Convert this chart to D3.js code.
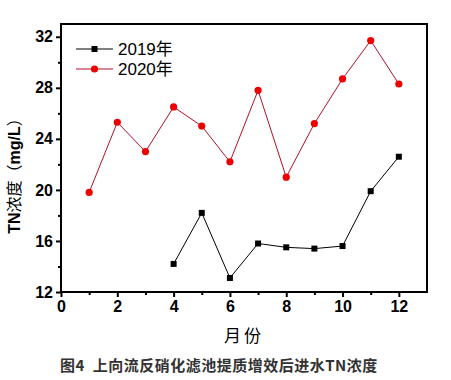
<!DOCTYPE html>
<html><head><meta charset="utf-8">
<script src="https://cdn.jsdelivr.net/npm/d3@7"></script>
<style>body{margin:0;background:#fff}svg{display:block}</style>
</head><body><svg id="c" width="451" height="380"></svg>
<script>
const months2019 = [4,5,6,7,8,9,10,11,12];
const values2019 = [14.2,18.2,13.1,15.8,15.5,15.4,15.6,19.9,22.6];
const months2020 = [1,2,3,4,5,6,7,8,9,10,11,12];
const values2020 = [19.8,25.3,23.0,26.5,25.0,22.2,27.8,21.0,25.2,28.7,31.7,28.3];
const xTicks = [0,2,4,6,8,10,12];
const yTicks = [12,16,20,24,28,32];
const seriesNames = ["2019年","2020年"];

const svg = d3.select("#c");
const L=61,R=427,T=24,B=292;
const x = d3.scaleLinear().domain([0,13]).range([L,R]);
const y = d3.scaleLinear().domain([12,33]).range([B,T]);
const font = "'Liberation Sans', Arial, sans-serif";

// frame
svg.append("rect").attr("x",L).attr("y",T).attr("width",R-L).attr("height",B-T)
  .attr("fill","none").attr("stroke","#000").attr("stroke-width",2);

// x axis
const gx = svg.append("g").attr("transform",`translate(0,${B})`)
  .call(d3.axisBottom(x).tickValues(xTicks).tickSize(5).tickPadding(4).tickFormat(d3.format("d")));
gx.select(".domain").remove();
gx.selectAll("line").attr("stroke-width",2);
gx.selectAll("text").attr("font-family",font).attr("font-weight","bold").attr("font-size",16).attr("fill","#000");
svg.append("g").attr("transform",`translate(0,${B})`)
  .call(d3.axisBottom(x).tickValues(d3.range(1,13,2)).tickSize(3).tickFormat(""))
  .call(g=>{g.select(".domain").remove();g.selectAll("line").attr("stroke-width",2);});

// y axis
const gy = svg.append("g").attr("transform",`translate(${L},0)`)
  .call(d3.axisLeft(y).tickValues(yTicks).tickSize(5).tickPadding(3).tickFormat(d3.format("d")));
gy.select(".domain").remove();
gy.selectAll("line").attr("stroke-width",2);
gy.selectAll("text").attr("font-family",font).attr("font-weight","bold").attr("font-size",16).attr("fill","#000");
svg.append("g").attr("transform",`translate(${L},0)`)
  .call(d3.axisLeft(y).tickValues([14,18,22,26,30]).tickSize(3).tickFormat(""))
  .call(g=>{g.select(".domain").remove();g.selectAll("line").attr("stroke-width",2);});

const line = d3.line().x(d=>x(d[0])).y(d=>y(d[1]));
const d19 = months2019.map((m,i)=>[m,values2019[i]]);
const d20 = months2020.map((m,i)=>[m,values2020[i]]);

svg.append("path").datum(d20).attr("d",line).attr("fill","none").attr("stroke","#b0102a").attr("stroke-width",1);
svg.append("path").datum(d19).attr("d",line).attr("fill","none").attr("stroke","#000").attr("stroke-width",1);
svg.selectAll(".c20").data(d20).enter().append("circle")
  .attr("cx",d=>x(d[0])).attr("cy",d=>y(d[1])).attr("r",3.6).attr("fill","#ee0000");
svg.selectAll(".s19").data(d19).enter().append("rect")
  .attr("x",d=>x(d[0])-3).attr("y",d=>y(d[1])-3).attr("width",6).attr("height",6).attr("fill","#000");

// legend
const leg = [{c:"#000",lc:"#000",sym:"sq",y:49},{c:"#ee0000",lc:"#b0102a",sym:"ci",y:69}];
leg.forEach((l,i)=>{
  svg.append("line").attr("x1",76).attr("x2",113).attr("y1",l.y).attr("y2",l.y).attr("stroke",l.lc).attr("stroke-width",1);
  if(l.sym==="sq") svg.append("rect").attr("x",91.5).attr("y",l.y-3).attr("width",6).attr("height",6).attr("fill",l.c);
  else svg.append("circle").attr("cx",94.5).attr("cy",l.y).attr("r",3.6).attr("fill",l.c);
  svg.append("text").attr("x",118).attr("y",l.y+6).attr("font-family","'Liberation Sans','Noto Sans CJK SC',sans-serif")
    .attr("font-size",17).attr("fill","#000").text(seriesNames[i]);
});

// axis titles
svg.append("text").attr("transform","translate(20,172) rotate(-90)").attr("text-anchor","middle")
  .attr("font-family","'Liberation Sans','Noto Sans CJK SC',sans-serif").attr("font-size",16).attr("fill","#000")
  .html('<tspan font-weight="bold">TN</tspan>浓度（<tspan font-weight="bold">mg/L</tspan>）');
svg.append("text").attr("x",244).attr("y",342).attr("text-anchor","middle")
  .attr("font-family","'Noto Sans CJK SC',sans-serif").attr("font-size",17).attr("fill","#000").attr("letter-spacing",3).text("月份");

// caption
svg.append("text").attr("x",60).attr("y",371)
  .attr("font-family","'Noto Sans CJK SC',sans-serif").attr("font-weight","bold").attr("font-size",15).attr("fill","#333")
  .attr("letter-spacing",0.5)
  .text("图4\u00a0\u00a0上向流反硝化滤池提质增效后进水TN浓度");
</script></body></html>
